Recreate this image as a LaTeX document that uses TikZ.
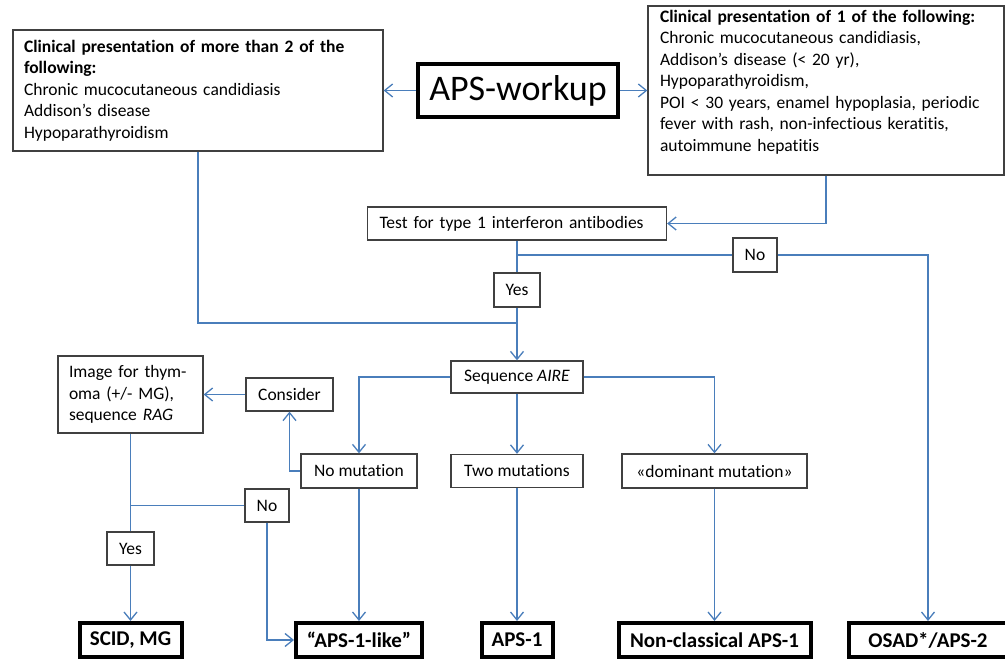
\documentclass[tikz,border=0pt]{standalone}
\usepackage{fontspec}
\setmainfont{Carlito}[Ligatures=NoCommon]
\usetikzlibrary{arrows.meta}
\definecolor{linkblue}{RGB}{74,126,187}
\definecolor{boxgrey}{RGB}{64,64,64}

\begin{document}
\begin{tikzpicture}[x=1pt, y=-1pt, >={Straight Barb[length=8pt,width=13pt]},
  box/.style={draw=boxgrey, line width=1.3pt, inner sep=0pt, minimum height=33pt, font=\fontsize{17.5}{21.5}\selectfont},
  txtbox/.style={box, align=left, inner xsep=11pt, inner ysep=4pt},
  endbox/.style={draw=black, line width=4pt, inner sep=0pt, minimum height=34pt, font=\fontsize{21}{24}\selectfont\bfseries},
  link/.style={draw=linkblue, line width=1.3pt}]
  \useasboundingbox (0,0) rectangle (1005,660);

  \node[draw=black, line width=4pt, minimum width=200pt, minimum height=53pt, font=\fontsize{36}{40}\selectfont] (workup) at (518,90.5) {APS-workup};
  \node[txtbox, text width=348pt, minimum height=121pt] (more) at (198,90.5)
    {\textbf{Clinical presentation of more than 2 of the}\\\textbf{following:}\\Chronic mucocutaneous candidiasis\\Addison’s disease\\Hypoparathyroidism};
  \node[txtbox, text width=332pt, inner xsep=12pt, minimum height=165pt] (one) at (826,90.5)
    {\textbf{Clinical presentation of 1 of the following:}\\Chronic mucocutaneous candidiasis,\\Addison’s disease (< 20 yr),\\Hypoparathyroidism,\\POI < 30 years, enamel hypoplasia, periodic\\fever with rash, non-infectious keratitis,\\autoimmune hepatitis\\[-2pt]\mbox{}};

  \node[txtbox, text width=275pt, inner xsep=12pt, minimum height=33pt] (test) at (517,223.5) {Test for type 1 interferon antibodies};
  \node[box, minimum width=44pt, minimum height=34pt] (noA) at (755,255) {No};
  \node[box, minimum width=46pt, minimum height=34pt] (yesA) at (517,290) {Yes};
  \node[box, minimum width=132pt, minimum height=32pt] (aire) at (517,377) {Sequence \textit{AIRE}};

  \node[txtbox, text width=123pt, minimum height=77pt] (thymo) at (130.5,394.5) {Image for thym-\\oma (+/- MG),\\sequence \textit{RAG}};
  \node[box, minimum width=87pt] (consider) at (289.5,394.5) {Consider};
  \node[box, minimum width=116pt, minimum height=34pt] (nomut) at (359,471) {No mutation};
  \node[box, minimum width=132pt] (twomut) at (517,471) {Two mutations};
  \node[box, minimum width=185pt, minimum height=34pt] (dommut) at (714.5,471) {«dominant mutation»};
  \node[box, minimum width=44pt] (noB) at (267,505.5) {No};
  \node[box, minimum width=47pt] (yesB) at (130.5,548.5) {Yes};

  \node[endbox, minimum width=102pt] (scid) at (130.5,640) {SCID, MG};
  \node[endbox, minimum width=126pt] (apslike) at (359,640) {“APS-1-like”};
  \node[endbox, minimum width=71pt] (aps1) at (517,640) {APS-1};
  \node[endbox, minimum width=192pt] (nonclass) at (714.5,640) {Non-classical APS-1};
  \node[endbox, minimum width=158pt] (osad) at (928,640) {OSAD*/APS-2};

  \coordinate (join) at (517,323);
  \coordinate (split) at (test.south |- noA);
  \coordinate (fork) at (thymo.south |- noB);

  \draw[link, ->] (workup) -- (more);
  \draw[link, ->] (workup) -- (one);
  \draw[link] (more.south) |- (join);
  \draw[link, ->] (one.south) |- (test.east);
  \draw[link] (test.south) -- (yesA.north);
  \draw[link] (split) -- (noA.west);
  \draw[link, ->] (noA.east) -| (osad.north);
  \draw[link, ->] (yesA.south) -- (aire.north);

  \draw[link, ->] (aire.west) -| (nomut.north);
  \draw[link, ->] (aire.south) -- (twomut.north);
  \draw[link, ->] (aire.east) -| (dommut.north);
  \draw[link, ->] (nomut.west) -| (consider.south);
  \draw[link, ->] (consider.west) -- (thymo.east);

  \draw[link] (thymo.south) -- (yesB.north);
  \draw[link, ->] (yesB.south) -- (scid.north);
  \draw[link] (fork) -- (noB.west);
  \draw[link, ->] (noB.south) |- (apslike.west);
  \draw[link, ->] (nomut.south) -- (apslike.north);
  \draw[link, ->] (twomut.south) -- (aps1.north);
  \draw[link, ->] (dommut.south) -- (nonclass.north);
\end{tikzpicture}
\end{document}
